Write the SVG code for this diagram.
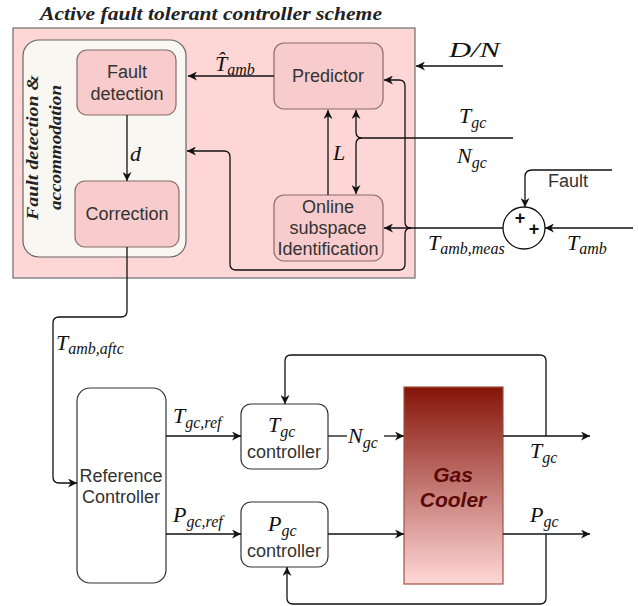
<svg xmlns="http://www.w3.org/2000/svg" width="638" height="606" viewBox="0 0 638 606">
<defs>
<marker id="arr" viewBox="0 0 10 10" refX="10" refY="5" markerWidth="9" markerHeight="9" markerUnits="userSpaceOnUse" orient="auto">
<path d="M0,0 L10,5 L0,10 L3,5 z" fill="#111"/>
</marker>
<linearGradient id="gc" x1="0" y1="0" x2="0" y2="1">
<stop offset="0" stop-color="#851409"/>
<stop offset="1" stop-color="#ffd8d8"/>
</linearGradient>
<style>
.t{font-family:"Liberation Sans",Arial,sans-serif;font-size:18px;fill:#333;text-anchor:middle}
.m{font-family:"Liberation Serif","Times New Roman",serif;font-style:italic;font-size:22px;fill:#111}
.s{font-size:16px}
.ln{fill:none;stroke:#111;stroke-width:1.3}
.ar{fill:none;stroke:#111;stroke-width:1.3;marker-end:url(#arr)}
.pk{fill:#f8cccc;stroke:#8a6a6a;stroke-width:1.2}
.wb{fill:#fff;stroke:#333;stroke-width:1.2}
.ti{font-family:"Liberation Serif","Times New Roman",serif;font-style:italic;font-weight:bold;fill:#222}
</style>
</defs>
<rect width="638" height="606" fill="#fff"/>
<text class="ti" x="40" y="20" font-size="18" textLength="342" lengthAdjust="spacingAndGlyphs">Active fault tolerant controller scheme</text>
<g id="aftc">
<rect x="13" y="28" width="402" height="250" fill="#ffd6d6" stroke="#777" stroke-width="1.3"/>
</g>
<g id="fda">
<rect x="23" y="40" width="163" height="217" rx="16" fill="#f9f7f1" stroke="#666" stroke-width="1.2"/>
<text class="ti" font-size="17" textLength="145" lengthAdjust="spacingAndGlyphs" transform="translate(38,220) rotate(-90)">Fault detection &amp;</text>
<text class="ti" font-size="17" textLength="125" lengthAdjust="spacingAndGlyphs" transform="translate(61,210) rotate(-90)">accommodation</text>
</g>
<g id="faultdet">
<rect class="pk" x="77" y="50" width="99" height="65" rx="10"/>
<text class="t" x="127" y="78">Fault</text>
<text class="t" x="127" y="100">detection</text>
</g>
<g id="correction">
<rect class="pk" x="75" y="181" width="104" height="66" rx="10"/>
<text class="t" x="127" y="220">Correction</text>
</g>
<g id="predictor">
<rect class="pk" x="274" y="43" width="109" height="66" rx="10"/>
<text class="t" x="328" y="82">Predictor</text>
</g>
<g id="online">
<rect class="pk" x="274" y="195" width="109" height="66" rx="10"/>
<text class="t" x="328" y="213">Online</text>
<text class="t" x="328" y="234">subspace</text>
<text class="t" x="328" y="255">Identification</text>
</g>
<g id="sum">
<circle cx="524" cy="228" r="21" fill="#fff" stroke="#111" stroke-width="1.3"/>
<text x="520" y="224" font-family="Liberation Sans,Arial,sans-serif" font-weight="bold" font-size="18" text-anchor="middle" fill="#111">+</text>
<text x="534" y="235" font-family="Liberation Sans,Arial,sans-serif" font-weight="bold" font-size="18" text-anchor="middle" fill="#111">+</text>
</g>
<g id="refctrl">
<rect class="wb" x="77" y="388" width="89" height="195" rx="13"/>
<text class="t" x="121" y="482">Reference</text>
<text class="t" x="121" y="503">Controller</text>
</g>
<g id="tgcctrl">
<rect class="wb" x="241" y="404" width="87" height="65" rx="10"/>
<text class="m" x="268" y="432">T<tspan class="s" dy="5">gc</tspan></text>
<text class="t" x="284" y="458">controller</text>
</g>
<g id="pgcctrl">
<rect class="wb" x="241" y="502" width="87" height="65" rx="10"/>
<text class="m" x="268" y="531">P<tspan class="s" dy="5">gc</tspan></text>
<text class="t" x="284" y="557">controller</text>
</g>
<g id="gascooler">
<rect x="404" y="387" width="99" height="197" fill="url(#gc)" stroke="#a4503e" stroke-width="1.2"/>
<text x="453" y="482" font-family="Liberation Sans,Arial,sans-serif" font-weight="bold" font-style="italic" font-size="21" fill="#5a0808" text-anchor="middle">Gas</text>
<text x="453" y="507" font-family="Liberation Sans,Arial,sans-serif" font-weight="bold" font-style="italic" font-size="21" fill="#5a0808" text-anchor="middle">Cooler</text>
</g>
<g id="connectors">
<path class="ar" d="M274,76 L188,76"/>
<path class="ar" d="M127,115 L127,181"/>
<path class="ar" d="M503,66 L416,66"/>
<path class="ar" d="M328,195 L328,110"/>
<path class="ar" d="M513,138 L362,138 Q356,138 356,132 L356,110"/>
<path class="ar" d="M362,138 Q356,138 356,144 L356,194"/>
<path class="ar" d="M503,228 L384,228"/>
<path class="ar" d="M411,228 Q405,228 405,222 L405,86 Q405,80 399,80 L384,80"/>
<path class="ar" d="M411,228 Q405,228 405,234 L405,264 Q405,270 399,270 L236,270 Q230,270 230,264 L230,157 Q230,151 224,151 L187,151"/>
<path class="ar" d="M612,170 L532,170 Q525,170 525,177 L525,207"/>
<path class="ar" d="M633,228 L545,228"/>
<path class="ar" d="M127,247 L127,311 Q127,317 121,317 L59,317 Q53,317 53,323 L53,477 Q53,483 59,483 L77,483"/>
<path class="ar" d="M166,436 L241,436"/>
<path class="ar" d="M166,534 L241,534"/>
<path class="ln" d="M328,436 L347,436"/>
<path class="ar" d="M384,436 L404,436"/>
<path class="ar" d="M328,534 L404,534"/>
<path class="ar" d="M503,436 L590,436"/>
<path class="ar" d="M503,534 L590,534"/>
<path class="ar" d="M546,436 L546,361 Q546,355 540,355 L291,355 Q285,355 285,361 L285,404"/>
<path class="ar" d="M546,534 L546,598 Q546,604 540,604 L293,604 Q287,604 287,598 L287,567"/>
</g>
<g id="labels">
<text class="m" x="215" y="71">T&#x302;<tspan class="s" dy="4">amb</tspan></text>
<text class="m" x="449" y="57" font-size="23" textLength="51" lengthAdjust="spacingAndGlyphs">D/N</text>
<text class="m" x="459" y="123">T<tspan class="s" dy="5">gc</tspan></text>
<text class="m" x="457" y="163">N<tspan class="s" dy="5">gc</tspan></text>
<text class="m" x="333" y="160">L</text>
<text class="m" x="130" y="161">d</text>
<text class="m" x="428" y="250">T<tspan class="s" dy="4">amb,meas</tspan></text>
<text class="t" x="568" y="187">Fault</text>
<text class="m" x="567" y="250">T<tspan class="s" dy="4">amb</tspan></text>
<text class="m" x="56" y="350">T<tspan class="s" dy="4">amb,aftc</tspan></text>
<text class="m" x="173" y="423">T<tspan class="s" dy="5">gc,ref</tspan></text>
<text class="m" x="173" y="522">P<tspan class="s" dy="5">gc,ref</tspan></text>
<text class="m" x="348" y="443">N<tspan class="s" dy="5">gc</tspan></text>
<text class="m" x="530" y="458">T<tspan class="s" dy="5">gc</tspan></text>
<text class="m" x="530" y="522">P<tspan class="s" dy="5">gc</tspan></text>
</g>
</svg>
